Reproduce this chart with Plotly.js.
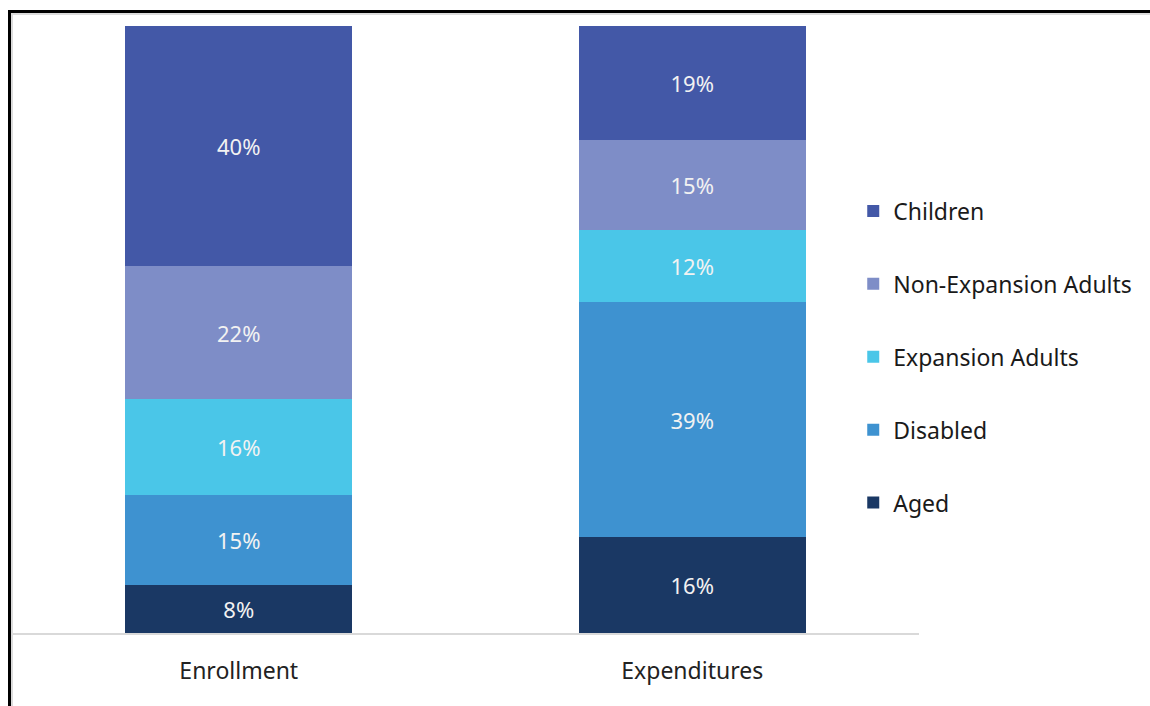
<!DOCTYPE html>
<html>
<head>
<meta charset="utf-8">
<script src="https://cdn.plot.ly/plotly-3.0.1.min.js"></script>
<style>
  html, body { margin: 0; padding: 0; background: #fff; }
  #wrap { position: relative; width: 1150px; height: 706px; overflow: hidden; }
  #chart { position: absolute; left: 0; top: 0; width: 1150px; height: 706px; }
  .bt { position: absolute; left: 8px; top: 10px; width: 1142px; height: 3px; background: #000; }
  .bts { position: absolute; left: 11px; top: 13px; width: 1139px; height: 2px; background: #dcdcdc; }
  .bl { position: absolute; left: 8px; top: 10px; width: 3px; height: 696px; background: #000; }
  .bls { position: absolute; left: 11px; top: 13px; width: 2px; height: 693px; background: #dcdcdc; }
</style>
</head>
<body>
<div id="wrap">
  <div id="chart"></div>
  <div class="bts"></div><div class="bls"></div>
  <div class="bt"></div><div class="bl"></div>
</div>
<script>
const categories = ["Enrollment", "Expenditures"];
const seriesNames = ["Aged", "Disabled", "Expansion Adults", "Non-Expansion Adults", "Children"];
const aged = [8, 16];
const disabled = [15, 39];
const expansionAdults = [16, 12];
const nonExpansionAdults = [22, 15];
const children = [40, 19];
const colors = ["#1a3864", "#3e92d0", "#4ac6e8", "#7e8dc7", "#4358a7"];

const values = [aged, disabled, expansionAdults, nonExpansionAdults, children];
const FONT = "Noto Sans, Open Sans, sans-serif";

const traces = values.map((v, i) => ({
  type: "bar",
  x: categories,
  y: v,
  name: seriesNames[i],
  legendgroup: "g" + i,
  legendrank: values.length - i,
  marker: { color: colors[i], line: { width: 0 } },
  text: v.map(d => d + "%"),
  textposition: "inside",
  insidetextanchor: "middle",
  textangle: 0,
  textfont: { family: FONT, size: 22, color: "#f2f2f2" },
  hoverinfo: "skip"
}));

const layout = {
  width: 1150,
  height: 706,
  margin: { l: 11.5, r: 230.5, t: 26, b: 73 },
  paper_bgcolor: "#ffffff",
  plot_bgcolor: "#ffffff",
  barmode: "stack",
  bargap: 0.5,
  showlegend: true,
  legend: {
    x: 0.9275,
    xanchor: "left",
    y: 0.4547,
    yanchor: "middle",
    traceorder: "grouped",
    tracegroupgap: 40,
    font: { family: FONT, size: 23, color: "#1a1a1a" },
    itemwidth: 30,
    bgcolor: "rgba(0,0,0,0)"
  },
  xaxis: {
    type: "category",
    range: [-0.5, 1.5],
    showline: true,
    linecolor: "#d9d9d9",
    linewidth: 1.5,
    ticks: "",
    showgrid: false,
    zeroline: false,
    ticklabelstandoff: 17,
    tickfont: { family: FONT, size: 23, color: "#222222" }
  },
  yaxis: {
    visible: false,
    range: [0, 101],
    showgrid: false,
    zeroline: false
  },
  font: { family: FONT }
};

Plotly.newPlot("chart", traces, layout, { displayModeBar: false, staticPlot: true });
</script>
</body>
</html>
